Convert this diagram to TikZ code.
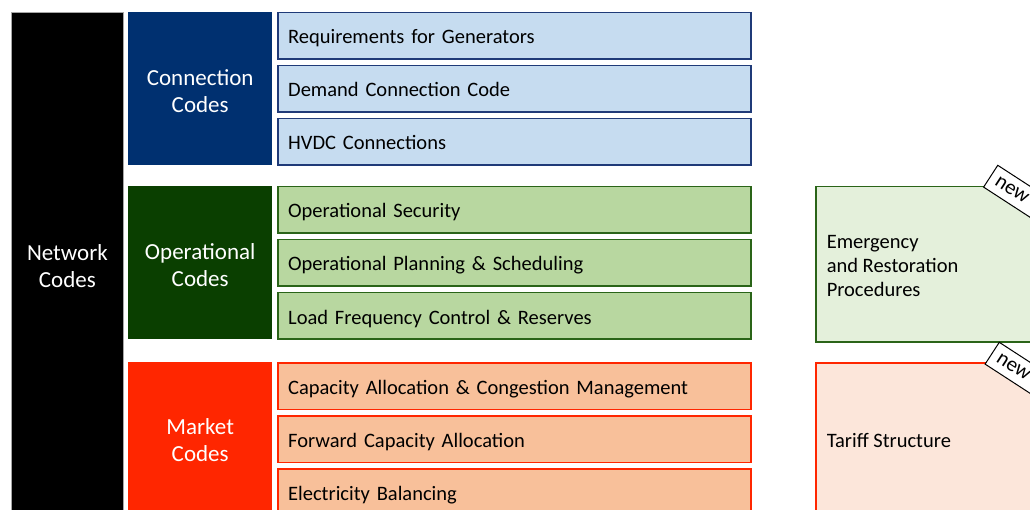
\documentclass[tikz,border=0pt]{standalone}
\usepackage{fontspec}
\setmainfont{Carlito}
\usetikzlibrary{positioning}
\definecolor{conblue}{HTML}{003070}
\definecolor{conlight}{HTML}{C6DCF0}
\definecolor{conline}{HTML}{1F3A78}
\definecolor{opsgreen}{HTML}{0A3F00}
\definecolor{opslight}{HTML}{B8D7A0}
\definecolor{opsline}{HTML}{2A6418}
\definecolor{opspale}{HTML}{E4F0DB}
\definecolor{mktred}{HTML}{FF2600}
\definecolor{mktlight}{HTML}{F8C09A}
\definecolor{mktpale}{HTML}{FCE6DA}
% text box lowered by #1, keeping its size
\newcommand{\lowtext}[3]{\raisebox{-#1}[\height][\depth]{\parbox{#2}{#3}}}

\begin{document}
\begin{tikzpicture}[x=1pt, y=-1pt,
  netbox/.style={fill=black, draw=gray!70, line width=0.8pt, text=white, anchor=north west,
    minimum width=112pt, minimum height=510pt, font=\fontsize{23}{27}\selectfont},
  groupbox/.style={anchor=north west, minimum width=144pt, minimum height=153pt,
    text=white, font=\fontsize{23}{27}\selectfont},
  itembox/.style={draw, line width=1.5pt, minimum height=46.5pt, text width=453pt,
    text height=16pt, text depth=0pt, inner xsep=10pt, align=left,
    font=\fontsize{20.5}{24}\selectfont},
  sidebox/.style={draw, line width=1.5pt, anchor=north west, minimum height=155pt,
    inner xsep=11pt, font=\fontsize{20.5}{24}\selectfont},
  newtag/.style={draw=black, fill=white, line width=1pt, rotate=-33, text width=44pt,
    inner xsep=7pt, minimum height=26pt, inner ysep=1pt, align=left,
    font=\fontsize{21}{22}\selectfont},
]
  \clip (0,0) rectangle (1030,510);

  \node[netbox] (net) at (11,12) {\lowtext{-1.5pt}{100pt}{\centering Network\\Codes}};

  % connection codes
  \node[groupbox, fill=conblue] (con) at (128,12) {\lowtext{2pt}{120pt}{\centering Connection\\Codes}};
  \node[itembox, fill=conlight, draw=conline, right=5pt of con.north east, anchor=north west] (con1) {Requirements for Generators};
  \node[itembox, fill=conlight, draw=conline, below=5pt of con1] (con2) {Demand Connection Code};
  \node[itembox, fill=conlight, draw=conline, below=5pt of con2] (con3) {HVDC Connections};

  % operational codes
  \node[groupbox, fill=opsgreen] (ops) at (128,186) {\lowtext{2.5pt}{120pt}{\centering Operational\\Codes}};
  \node[itembox, fill=opslight, draw=opsline, right=5pt of ops.north east, anchor=north west] (ops1) {Operational Security};
  \node[itembox, fill=opslight, draw=opsline, below=5pt of ops1] (ops2) {Operational Planning \& Scheduling};
  \node[itembox, fill=opslight, draw=opsline, below=5pt of ops2] (ops3) {Load Frequency Control \& Reserves};

  % market codes
  \node[groupbox, fill=mktred] (mkt) at (128,362) {\lowtext{1.5pt}{120pt}{\centering Market\\Codes}};
  \node[itembox, fill=mktlight, draw=mktred, right=5pt of mkt.north east, anchor=north west] (mkt1) {Capacity Allocation \& Congestion Management};
  \node[itembox, fill=mktlight, draw=mktred, below=5pt of mkt1] (mkt2) {Forward Capacity Allocation};
  \node[itembox, fill=mktlight, draw=mktred, below=5pt of mkt2] (mkt3) {Electricity Balancing};

  % new codes
  \node[sidebox, fill=opspale, draw=opsline] (emr) at (815,186) {\lowtext{2pt}{208pt}{Emergency\\and Restoration\\Procedures}};
  \node[sidebox, fill=mktpale, draw=mktred] (tar) at (815,362) {\lowtext{0pt}{208pt}{Tariff Structure}};
  \node[newtag] (emrnew) at (1015,192) {new};
  \node[newtag] (tarnew) at (1016.5,369) {new};
\end{tikzpicture}
\end{document}
